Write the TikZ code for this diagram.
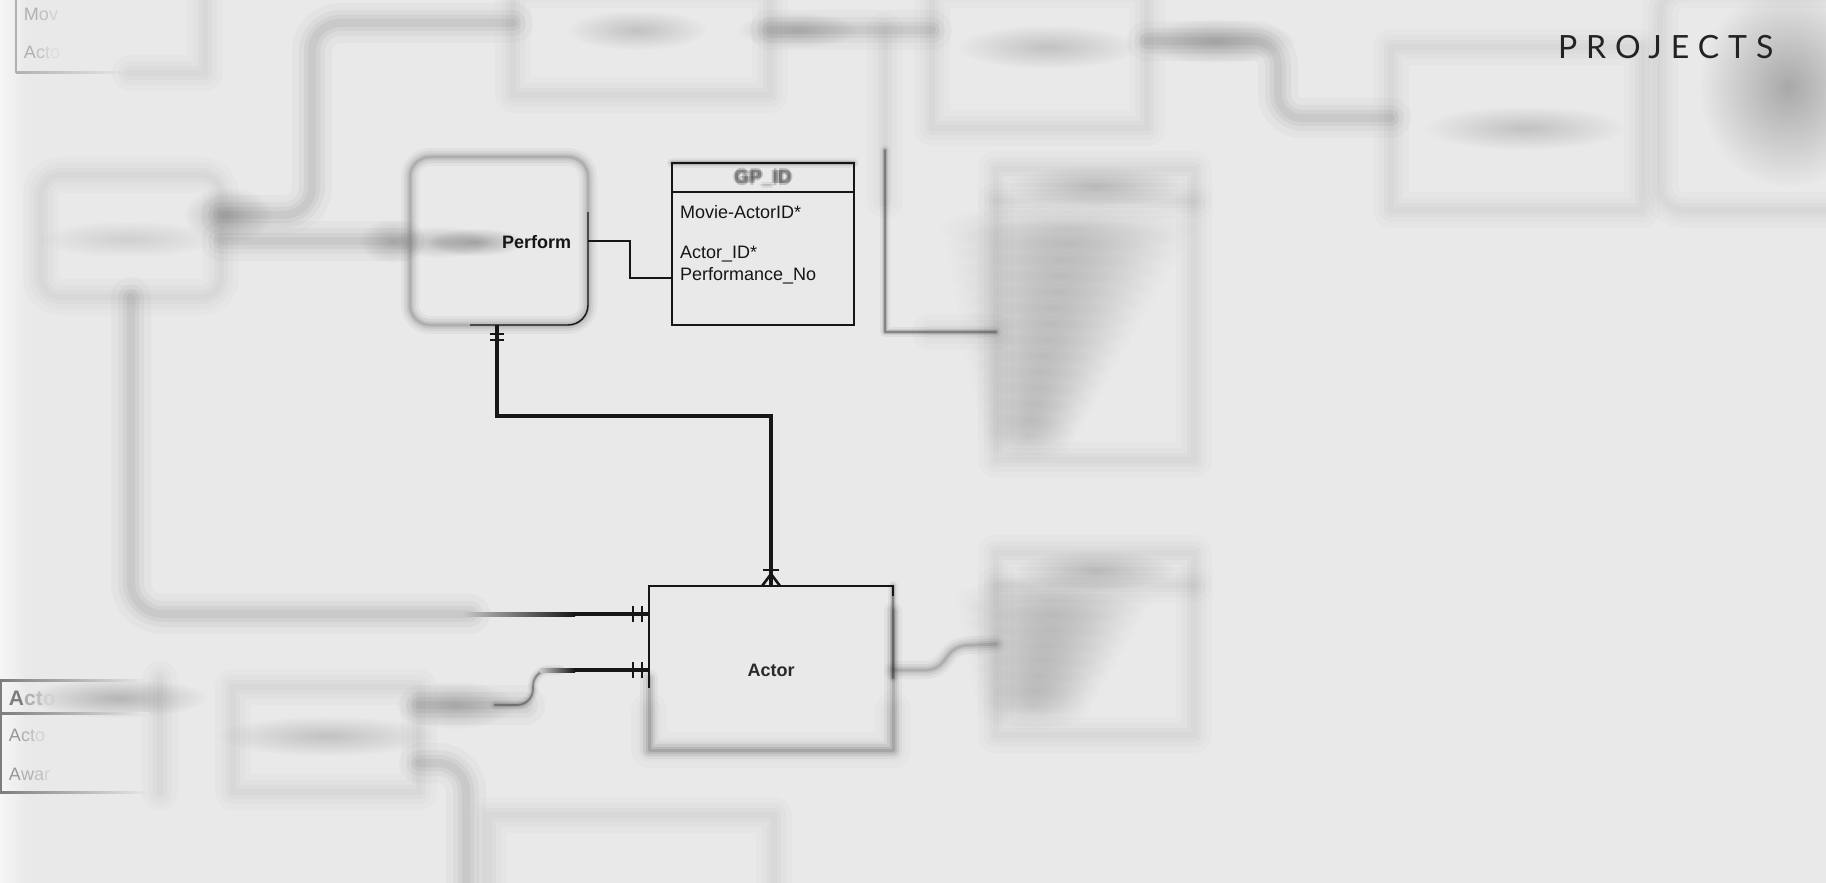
\documentclass[tikz,border=0pt]{standalone}
\usepackage{fontspec}
\setmainfont{Liberation Sans}
\newfontfamily\projfont[LetterSpace=28]{Lato}
\usetikzlibrary{calc,fadings}
\definecolor{bg}{RGB}{233,233,233}
\definecolor{ink}{RGB}{22,22,22}
\definecolor{fzc}{RGB}{105,105,105}
\definecolor{fzmid}{RGB}{200,200,200}
\definecolor{tlc1}{RGB}{176,176,176}
\definecolor{tlc2}{RGB}{192,192,192}
\definecolor{tlc3}{RGB}{210,210,210}
\definecolor{tlc4}{RGB}{222,222,222}
\definecolor{jc}{RGB}{125,125,125}
\tikzfading[name=blobfade, inner color=transparent!0, outer color=transparent!100]
\tikzfading[name=fadeout, left color=transparent!0, right color=transparent!100]
\newcommand\smudge[5]{\fill[fzc, fill opacity=#5, path fading=blobfade] (#1,#2) ellipse [x radius={2*(#3)}, y radius={2*(#4)}];}
\newcommand\fuzzy[2]{\leavevmode\rlap{\kern-#1\hbox{#2}}\rlap{\kern#1\hbox{#2}}\rlap{\raise#1\hbox{#2}}\rlap{\lower#1\hbox{#2}}\hbox{#2}}
\tikzset{
  every node/.style={font=\fontsize{9pt}{11pt}\selectfont, inner sep=0pt, outer sep=0pt, text=ink},
  boldf/.style={font=\fontsize{9pt}{11pt}\selectfont\bfseries},
  thinl/.style={draw=ink, line width=0.7pt},
  thickl/.style={draw=ink, line width=2pt},
  barl/.style={draw=ink, line width=1.4pt},
  fzA/.style={draw=fzc, draw opacity=.025, line width=18pt, line cap=round, line join=round,
     postaction={draw=fzc, draw opacity=.03, line width=12pt, line cap=round, line join=round},
     postaction={draw=fzc, draw opacity=.035, line width=7pt, line cap=round, line join=round},
     postaction={draw=fzc, draw opacity=.03, line width=3pt, line cap=round, line join=round}},
  fzT/.style={draw=fzc, draw opacity=.04, line width=20pt, line cap=round, line join=round,
     postaction={draw=fzc, draw opacity=.06, line width=13pt, line cap=round, line join=round},
     postaction={draw=fzc, draw opacity=.08, line width=8pt, line cap=round, line join=round},
     postaction={draw=fzc, draw opacity=.08, line width=4pt, line cap=round, line join=round}},
  fzM/.style={draw=ink, draw opacity=.04, line width=9pt, line cap=round, line join=round,
     postaction={draw=ink, draw opacity=.06, line width=6pt, line cap=round, line join=round},
     postaction={draw=ink, draw opacity=.08, line width=3.5pt, line cap=round, line join=round},
     postaction={draw=ink, draw opacity=.12, line width=1.5pt, line cap=round, line join=round}},
  fzB/.style={draw=ink, draw opacity=.05, line width=5pt, line cap=round, line join=round,
     postaction={draw=ink, draw opacity=.08, line width=3pt, line cap=round, line join=round},
     postaction={draw=ink, draw opacity=.14, line width=1.6pt, line cap=round, line join=round},
     postaction={draw=ink, draw opacity=.30, line width=0.8pt, line cap=round, line join=round}},
}
\begin{document}
\begin{tikzpicture}[x=0.5pt, y=-0.5pt]
\useasboundingbox (0,0) rectangle (1826,883);
\clip (0,0) rectangle (1826,883);
\fill[bg] (0,0) rectangle (1826,883);
\fill[white, fill opacity=.6, path fading=fadeout] (0,0) rectangle (28,883);

% main nodes first (for references)
\node[fzM, rounded corners=10pt, minimum width=89pt, minimum height=84pt] (perform) at (499,241) {};
\node[minimum width=122pt, minimum height=82pt] (actor) at (771,668) {};

% ---------- blurred surroundings ----------
% top-left table
\draw[draw=tlc1, line width=1pt] (16,-5) -- (16,73);
\shade[left color=tlc1, right color=bg] (16,72) rectangle (130,74);
\node[anchor=base west] (tlA) at (24,21) {\textcolor{tlc1}{M}\textcolor{tlc2}{o}\textcolor{tlc3}{v}};
\node[anchor=base west] (tlB) at (24,59) {\textcolor{tlc1}{A}\textcolor{tlc2}{c}\textcolor{tlc3}{t}\textcolor{tlc4}{o}};
\draw[fzA] (130,73) -- (205,73) -- (205,-10);

% boxes
\node[fzA, minimum width=128.5pt, minimum height=52.5pt] (boxB) at (641.5,42.5) {};
\node[fzA, rounded corners=10pt, minimum width=90pt, minimum height=61pt] (boxC) at (131,236) {};
\node[fzA, minimum width=93pt, minimum height=52.5pt] (boxK) at (326,739.5) {};
\node[fzA, minimum width=142.5pt, minimum height=60pt] (boxM) at (631.5,875) {};
\node[fzA, minimum width=107.5pt, minimum height=69pt] (boxG1) at (1039.5,59) {};
\node[fzA, minimum width=125.5pt, minimum height=81.5pt] (boxG2) at (1516.5,128.5) {};
\node[fzA, rounded corners=12pt, minimum width=100pt, minimum height=110pt] (boxG3) at (1760,100) {};
\node[fzA, minimum width=99pt, minimum height=145.5pt] (boxH1) at (1095,314.5) {};
\node[fzA, minimum width=99pt, minimum height=91pt] (boxH2) at (1095,644) {};
\draw[fzA] ($(boxH1.north west)+(0,32)$) -- ($(boxH1.north east)+(0,32)$);
\draw[fzA] ($(boxH2.north west)+(0,32)$) -- ($(boxH2.north east)+(0,32)$);

% blurred connectors
\draw[fzT, rounded corners=14pt] (boxB.west |- 0,23) -- (312,23) -- (312,215) -- (boxC.east |- 0,215);
\draw[fzT] (boxC.east |- perform.west) -- (405,241);
\coordinate (fadeA) at (470,614);
\draw[fzT, rounded corners=16pt] (boxC.south) |- (fadeA);
\draw[fzT, rounded corners=10pt] (boxK.north east |- 0,705) -- (525,705);
\draw[fzB, rounded corners=8pt] (495,705) -- (533,705) -- (533,670) -- (560,670);
\draw[fzT, rounded corners=14pt] (boxK.east |- 0,763) -- (466,763) -- (466,900);
\draw[fzT] (boxB.east |- 0,30) -- (boxG1.west |- 0,30);
\draw[fzT, rounded corners=12pt] (boxG1.east |- 0,41) -- (1278,41) -- (1278,118) -- (boxG2.west |- 0,118);
\draw[fzA] (885,30) -- (885,200);
\draw[fzB] (885,150) -- (885,332) -- (boxH1.west |- 0,332);
\draw[fzA] (930,332) -- (boxH1.west |- 0,332);
\draw[fzM, rounded corners=5pt] (actor.east |- 0,670) -- (937,670) -- (955,646) -- (boxH2.west |- 0,644);

% blurred text smudges
\smudge{637}{30}{35}{10}{.3}
\smudge{797}{30}{30}{9}{.35}
\smudge{1048}{47}{45}{11}{.3}
\smudge{1215}{41}{40}{11}{.4}
\smudge{1525}{128}{50}{11}{.3}
\smudge{1788}{87}{44}{50}{.5}
\smudge{1095}{186}{45}{10}{.35}
\smudge{1095}{570}{40}{10}{.35}
\smudge{128}{239}{45}{9}{.2}
\smudge{228}{215}{22}{14}{.4}
\smudge{392}{241}{16}{11}{.35}
\smudge{326}{736}{55}{10}{.3}
\smudge{455}{705}{30}{12}{.35}
\smudge{118}{698}{45}{10}{.4}
\foreach \i in {0,...,13}{
  \pgfmathsetmacro\rw{64-3.1*\i}
  \pgfmathsetmacro\rx{1004+\rw}
  \pgfmathsetmacro\ry{228+16*\i}
  \fill[fzc, fill opacity=.22, path fading=blobfade] (\rx,\ry) ellipse [x radius=2*\rw, y radius=26];
}
\foreach \i in {0,...,7}{
  \pgfmathsetmacro\rw{50-3*\i}
  \pgfmathsetmacro\rx{1004+\rw}
  \pgfmathsetmacro\ry{600+15*\i}
  \fill[fzc, fill opacity=.22, path fading=blobfade] (\rx,\ry) ellipse [x radius=2*\rw, y radius=26];
}

% bottom-left table
\draw[jc, line width=1pt] (1,679) -- (1,793);
\shade[left color=jc, right color=bg] (0,679) rectangle (150,681);
\shade[left color=jc, right color=bg] (0,712) rectangle (150,714);
\shade[left color=jc, right color=bg] (0,791) rectangle (150,793);
\draw[fzA] (160,679) -- (160,792);
\node[anchor=base west, font=\fontsize{10.5pt}{12pt}\selectfont\bfseries] (jA) at (9,705) {\textcolor{jc}{A}\textcolor{tlc1}{c}\textcolor{tlc2}{t}\textcolor{tlc3}{o}};
\node[anchor=base west] (jB) at (9,741) {\textcolor{jc!80}{A}\textcolor{tlc1}{c}\textcolor{tlc2}{t}\textcolor{tlc3}{o}};
\node[anchor=base west] (jC) at (9,780) {\textcolor{jc!80}{A}\textcolor{tlc1}{w}\textcolor{tlc2}{a}\textcolor{tlc3}{r}};

% ---------- focused part ----------
\draw[thinl, rounded corners=10pt] ($(perform.north east)+(0,55)$) -- (perform.south east) -- ($(perform.south west)+(60,0)$);
\smudge{440}{242}{25}{8}{.35}
\smudge{476}{242}{24}{7}{.5}
\node[anchor=west, boldf] (performtxt) at (502,242) {Perform};

\node[thinl, minimum width=91pt, minimum height=81pt] (gp) at (763,244) {};
\draw[thinl] ($(gp.north west)+(0,29)$) -- ($(gp.north east)+(0,29)$);
\draw[fzB] (gp.north west) -- (gp.north east);
\node[font=\fontsize{9.5pt}{11pt}\selectfont\bfseries, text opacity=.2] (gphead) at (763,178) {\fuzzy{0.9pt}{GP\_ID}};
\node[anchor=base west] (a1) at (680,218) {Movie-ActorID*};
\node[anchor=base west] (a2) at (680,258) {Actor\_ID*};
\node[anchor=base west] (a3) at (680,280) {Performance\_No};

\draw[thinl] (perform.east) -- ++(42,0) |- ($(gp.west)+(0,34)$);

\draw[fzB] (actor.north east) -- ($(actor.east)+(0,10)$);
\draw[fzM] ($(actor.north east)+(0,25)$) -- (actor.south east) -- (actor.south west) -- ($(actor.west)+(0,10)$);
\draw[fzA] ($(actor.south east)+(0,-40)$) -- (actor.south east) -- (actor.south west) -- ($(actor.south west)+(0,-40)$);
\draw[thinl] ($(actor.west)+(0,20)$) -- (actor.north west) -- (actor.north east) -- ++(0,10);
\node[boldf, text=ink!92] (actortxt) at (771,670) {Actor};

% thick relationship Perform -- Actor
\draw[thickl] ($(perform.south)+(-2,0)$) -- ($(perform.south)+(-2,91)$) -| (actor.north);
\draw[barl] ($(perform.south)+(-9,9)$) -- ++(14,0);
\draw[barl] ($(perform.south)+(-9,15)$) -- ++(14,0);
\draw[barl] ($(actor.north)+(-8,-16)$) -- ++(16,0);
\draw[draw=ink, line width=1.3pt] ($(actor.north)+(-9,0)$) -- ($(actor.north)+(0,-12)$) -- ($(actor.north)+(9,0)$);

% left relationships into Actor
\coordinate (fadeB) at (574,614);
\shade[left color=fzmid, right color=ink] (462,612) rectangle (575,616);
\draw[thickl] (fadeB) -- ($(actor.north west)+(0,28)$);
\coordinate (fadeC) at (574,670);
\shade[left color=fzmid, right color=ink] (540,668) rectangle (575,672);
\draw[thickl] (fadeC) -- ($(actor.west)+(0,2)$);
\draw[barl] ($(actor.north west)+(-16,20)$) -- ++(0,16);
\draw[barl] ($(actor.north west)+(-7,20)$) -- ++(0,16);
\draw[barl] ($(actor.west)+(-16,-6)$) -- ++(0,16);
\draw[barl] ($(actor.west)+(-7,-6)$) -- ++(0,16);

% title
\node[anchor=west, font=\projfont\fontsize{16pt}{18pt}\selectfont, text={rgb,255:red,35;green,35;blue,35}] (proj) at (1558,47) {PROJECTS};
\end{tikzpicture}
\end{document}
